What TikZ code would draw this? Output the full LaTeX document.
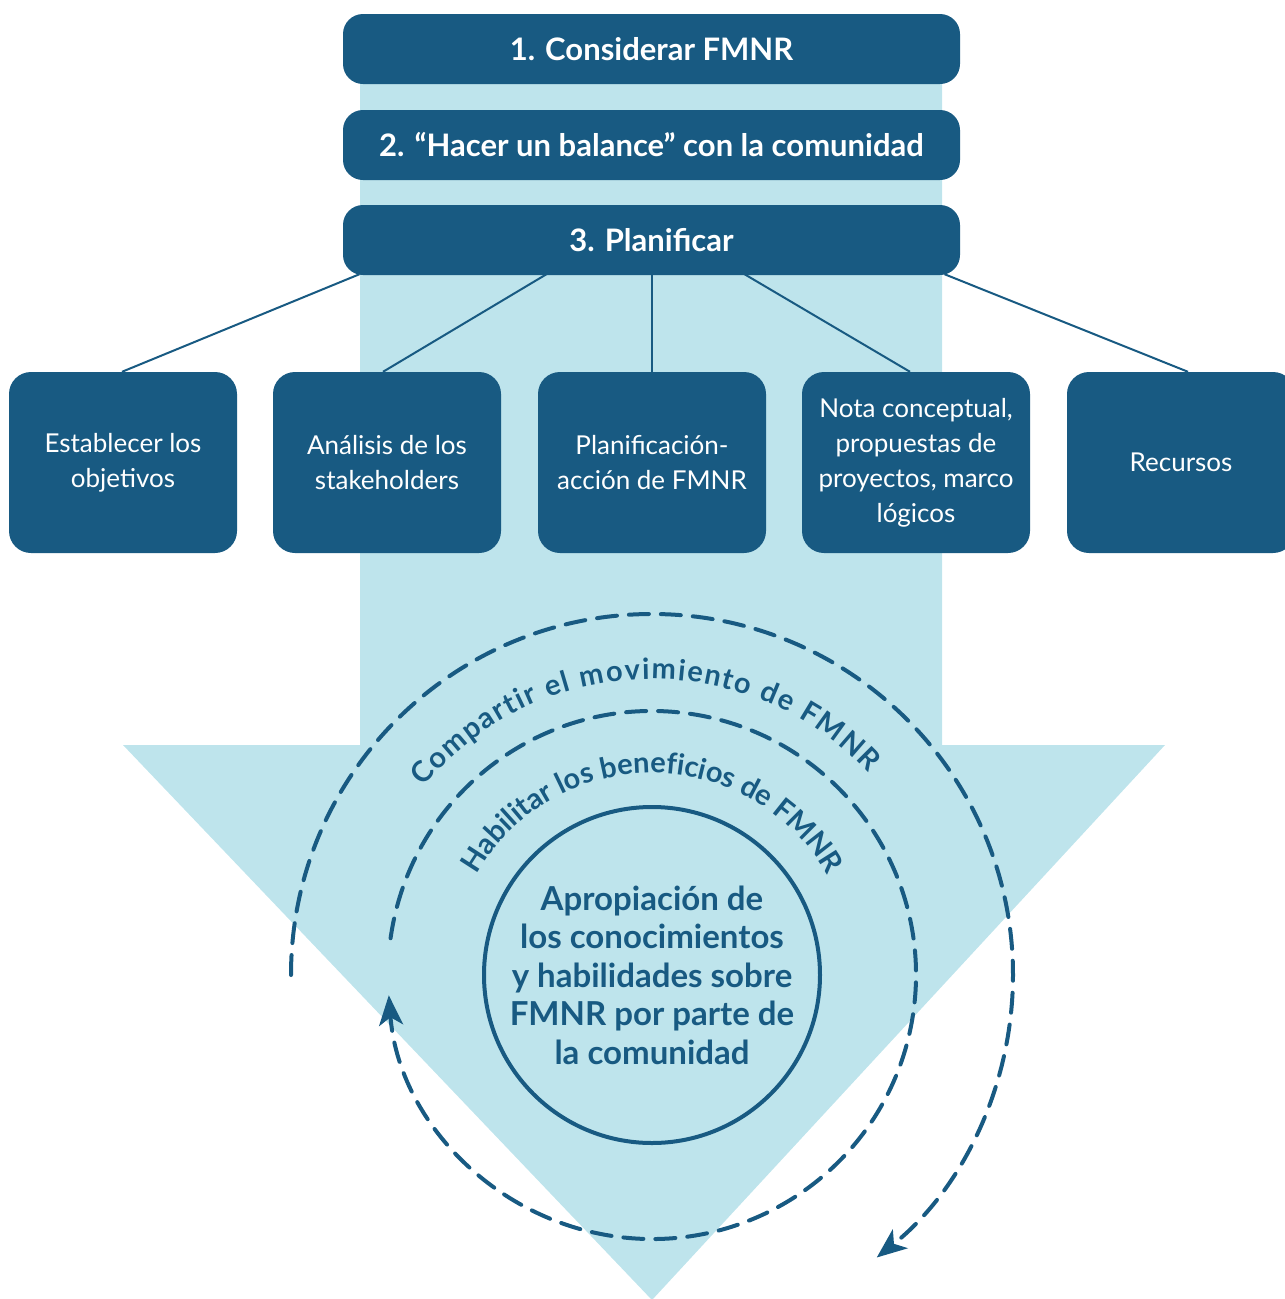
\documentclass[tikz,border=0pt]{standalone}
\usepackage{fontspec}
\setmainfont{Lato}
\usetikzlibrary{arrows.meta,decorations.text,calc}
\definecolor{dblue}{RGB}{24,90,130}
\definecolor{lblue}{RGB}{190,228,236}
\begin{document}
\begin{tikzpicture}[x=1pt,y=1pt,
  topbox/.style={fill=dblue, rounded corners=20pt, minimum width=617pt, minimum height=70pt, text=white, font=\bfseries\fontsize{31}{34}\selectfont, inner sep=0pt},
  subbox/.style={fill=dblue, rounded corners=22pt, minimum width=228pt, minimum height=181pt, text=white, align=center, font=\fontsize{26}{35}\selectfont, inner sep=0pt},
  link/.style={draw=dblue, line width=2pt},
  dasharc/.style={draw=dblue, line width=4pt, dash pattern=on 20pt off 12pt, line cap=round},
  tipstyle/.style={-{Stealth[length=30pt,width=24pt,inset=8pt]}},
]
\useasboundingbox (0,0) rectangle (1285,-1299);
\clip (0,0) rectangle (1285,-1299);
% big light arrow
\fill[lblue] (360,-50) -- (942,-50) -- (942,-745) -- (1165,-745) -- (652,-1300) -- (123,-745) -- (360,-745) -- cycle;
% nodes
\node[topbox] (p1) at (651.5,-49) {1. Considerar FMNR};
\node[topbox] (p2) at (651.5,-145) {2. “Hacer un balance” con la comunidad};
\node[topbox] (p3) at (651.5,-240) {3. Planificar};
\node[subbox] (s1) at (123,-462.5) {Establecer los\\objetivos};
\node[subbox] (s2) at (387,-462.5) {Análisis de los\\stakeholders};
\node[subbox] (s3) at (652,-462.5) {Planificación-\\acción de FMNR};
\node[subbox] (s4) at (916,-462.5) {Nota conceptual,\\propuestas de\\proyectos, marco\\lógicos};
\node[subbox] (s5) at (1181,-462.5) {Recursos};
% links
\draw[link] ([xshift=-292pt,yshift=1pt]p3.south) -- ([xshift=-1pt]s1.north);
\draw[link] ([xshift=-105pt,yshift=1pt]p3.south) -- ([xshift=-4pt]s2.north);
\draw[link] ([xshift=0.5pt]p3.south) -- (s3.north);
\draw[link] ([xshift=93pt,yshift=1pt]p3.south) -- ([xshift=-6pt]s4.north);
\draw[link] ([xshift=293pt,yshift=1pt]p3.south) -- ([xshift=7pt]s5.north);
% circles
\coordinate (c) at (652,-975);
\node[circle, draw=dblue, line width=4pt, minimum size=336pt, align=center, text=dblue,
  font=\bfseries\fontsize{33}{38.5}\selectfont, inner sep=0pt] (core) at (c)
  {Apropiación de\\los conocimientos\\y habilidades sobre\\FMNR por parte de\\la comunidad};
\draw[dasharc, tipstyle] ([shift={(180:361)}]c) arc[start angle=180, end angle=-51.5, radius=361];
\draw[dasharc, tipstyle] ([shift={(172:264)}]c) arc[start angle=172, end angle=-175.6, radius=264];
\path[decorate, decoration={text along path, text align=fit to path,
  text={|\bfseries\fontsize{29}{29}\selectfont\color{dblue}|Compartir el movimiento de FMNR}}]
  ([shift={(140.5:296)}]c) arc[start angle=140.5, end angle=43, radius=296];
\path[decorate, decoration={text along path, text align=center,
  text={|\bfseries\fontsize{29}{29}\selectfont\color{dblue}|Habilitar los beneficios de FMNR}}]
  ([shift={(170:202)}]c) arc[start angle=170, end angle=10, radius=202];
\end{tikzpicture}
\end{document}
